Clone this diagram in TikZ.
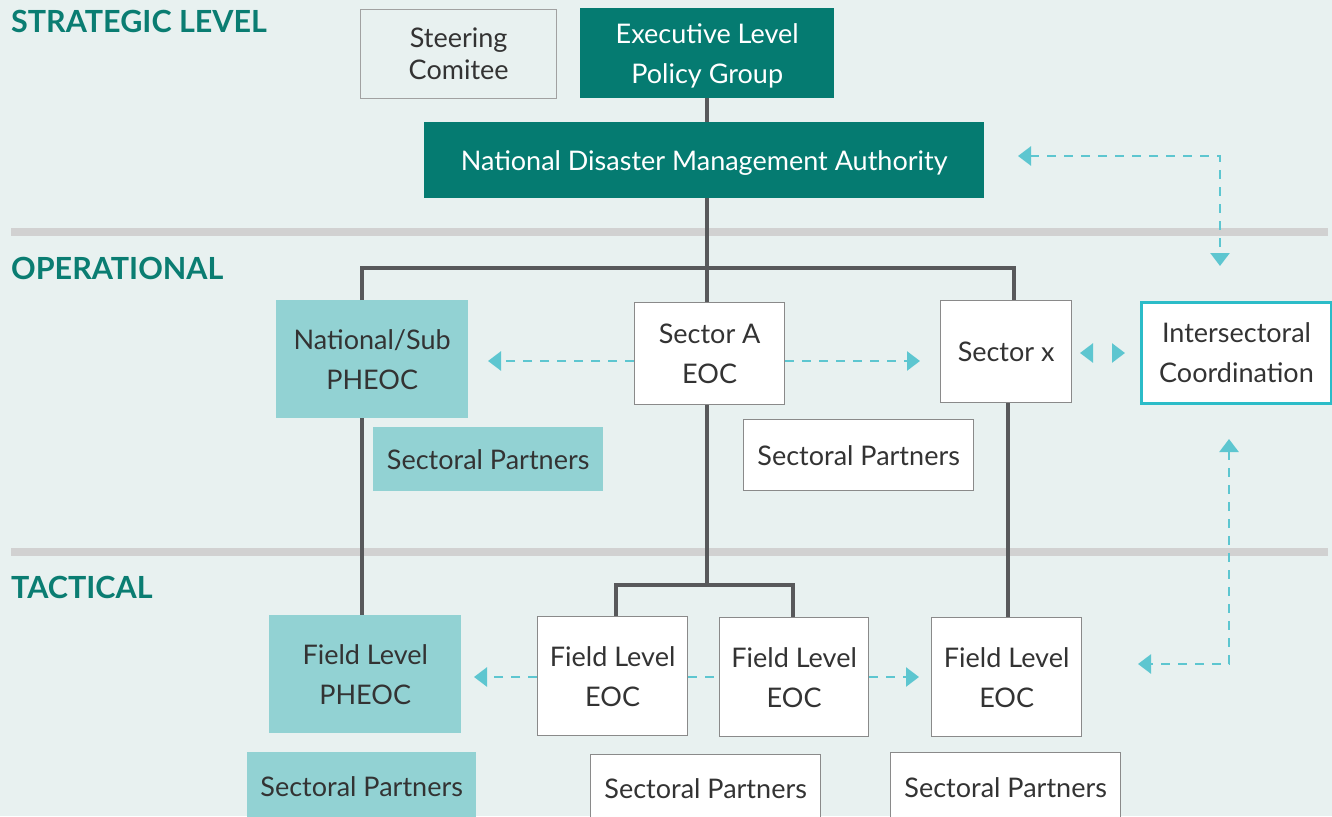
\documentclass[tikz,border=0pt]{standalone}
\usepackage{fontspec}
\setmainfont{Lato}
\usetikzlibrary{arrows.meta}

\definecolor{bg}{HTML}{E8F1F0}
\definecolor{dteal}{HTML}{057B71}
\definecolor{lteal}{HTML}{92D2D3}
\definecolor{acc}{HTML}{5DC6D0}
\definecolor{isborder}{HTML}{2BBCC8}
\definecolor{linegray}{HTML}{58595B}
\definecolor{boxgray}{HTML}{8A8A8A}
\definecolor{band}{HTML}{D1D1D1}
\definecolor{headc}{HTML}{0A7D72}
\definecolor{txt}{HTML}{333333}

\newcommand\bodyfont{\fontsize{27}{40}\selectfont}
% box macro: style, name, north-west corner, width, height, text
\newcommand\bx[6]{\node[#1, anchor=north west, minimum width=#4pt, minimum height=#5pt] (#2) at (#3) {#6};}

\tikzset{
  base/.style={inner sep=0pt, align=center, font=\bodyfont, text=txt, text depth=0pt},
  whitebox/.style={base, draw=boxgray, line width=1.3pt, fill=white},
  tealbox/.style={base, fill=lteal},
  darkbox/.style={base, fill=dteal, text=white},
  head/.style={font=\fontsize{30.5}{32}\selectfont\bfseries, text=headc, inner sep=0pt, anchor=base west},
  link/.style={draw=linegray, line width=4.5pt},
  dlink/.style={draw=acc, line width=2.6pt, dash pattern=on 9pt off 8pt},
  tipend/.style={-{Triangle[width=19pt,length=13pt]}},
  tipboth/.style={{Triangle[width=19pt,length=13pt]}-{Triangle[width=19pt,length=13pt]}},
}

\begin{document}
\begin{tikzpicture}[x=1pt,y=-1pt]
\useasboundingbox (0,0) rectangle (1332,816);
\clip (0,0) rectangle (1332,816);
\fill[bg] (0,0) rectangle (1332,816);

% level bands
\fill[band] (11,228) rectangle (1328,236);
\fill[band] (11,548) rectangle (1328,556);

% level headings
\node[head] (hstrat) at (11,33) {STRATEGIC LEVEL};
\node[head] (hop) at (11,279) {OPERATIONAL};
\node[head] (htac) at (11,598) {TACTICAL};

% strategic level
\bx{whitebox, fill=none, draw=boxgray!80, font=\fontsize{27}{32}\selectfont}{steer}{360,9}{196}{89}{Steering\\Comitee}
\bx{darkbox}{exec}{580,8}{254}{90}{Executive Level\\Policy Group}
\bx{darkbox}{ndma}{424,122}{560}{76}{National Disaster Management Authority}

% operational level
\bx{tealbox}{nat}{276,300}{192}{118}{National/Sub\\PHEOC}
\bx{whitebox}{sa}{634,302}{150}{102}{Sector A\\EOC}
\bx{whitebox}{sx}{940,300}{131}{102}{Sector x}
\bx{whitebox, draw=isborder, line width=3pt}{isc}{1140,301}{190}{101}{Intersectoral\\Coordination}
\bx{tealbox}{sp1}{373,427}{230}{64}{Sectoral Partners}
\bx{whitebox}{sp2}{743,419}{230}{71}{Sectoral Partners}

% tactical level
\bx{tealbox}{fp}{269,615}{192}{118}{Field Level\\PHEOC}
\bx{whitebox}{fe1}{537,616}{150}{119}{Field Level\\EOC}
\bx{whitebox}{fe2}{719,617}{149}{119}{Field Level\\EOC}
\bx{whitebox}{fe3}{931,617}{150}{119}{Field Level\\EOC}
\bx{tealbox}{sp3}{247,752}{229}{68}{Sectoral Partners}
\bx{whitebox}{sp4}{590,754}{230}{68}{Sectoral Partners}
\bx{whitebox}{sp5}{890,752}{230}{70}{Sectoral Partners}

% hierarchy connectors
\coordinate (j1) at (707,268);
\coordinate (hL) at (362,268);
\coordinate (hR) at (1014,268);
\coordinate (j2) at (707,585);
\coordinate (b1) at (616,585);
\coordinate (b2) at (793,585);
\coordinate (vx) at (1008,0);

\draw[link] (j1 |- exec.south) -- (j1 |- ndma.north);
\draw[link] (j1 |- ndma.south) -- (j1);
\draw[link] (hL |- nat.north) -- (hL) -- (hR) -- (hR |- sx.north);
\draw[link] (j1) -- (j1 |- sa.north);
\draw[link] (hL |- nat.south) -- (hL |- fp.north);
\draw[link] (j2 |- sa.south) -- (j2);
\draw[link] (b1 |- fe1.north) -- (b1) -- (b2) -- (b2 |- fe2.north);
\draw[link] (vx |- sx.south) -- (vx |- fe3.north);

% coordination arrows
\coordinate (aL) at (488,361);
\coordinate (aR) at (920,361);
\draw[dlink, tipend] (sa.west |- aL) -- (aL);
\draw[dlink, tipend] (sa.east |- aR) -- (aR);

\coordinate (xl) at (1080,353);
\coordinate (xr) at (1125,353);
\draw[dlink, tipboth, dash pattern=on 0pt off 30pt] (xl) -- (xr);

\coordinate (n1) at (1018,156);
\coordinate (n2) at (1220,266);
\draw[dlink, tipboth] (n1) -| (n2);

\coordinate (m1) at (1229,439);
\coordinate (m2) at (1138,664);
\draw[dlink, tipboth] (m1) |- (m2);

\coordinate (fL) at (474,677);
\coordinate (fR) at (919,677);
\draw[dlink, tipend] (fe1.west |- fL) -- (fL);
\draw[dlink] (fe1.east |- fL) -- (fe2.west |- fL);
\draw[dlink, tipend] (fe2.east |- fR) -- (fR);
\end{tikzpicture}
\end{document}
